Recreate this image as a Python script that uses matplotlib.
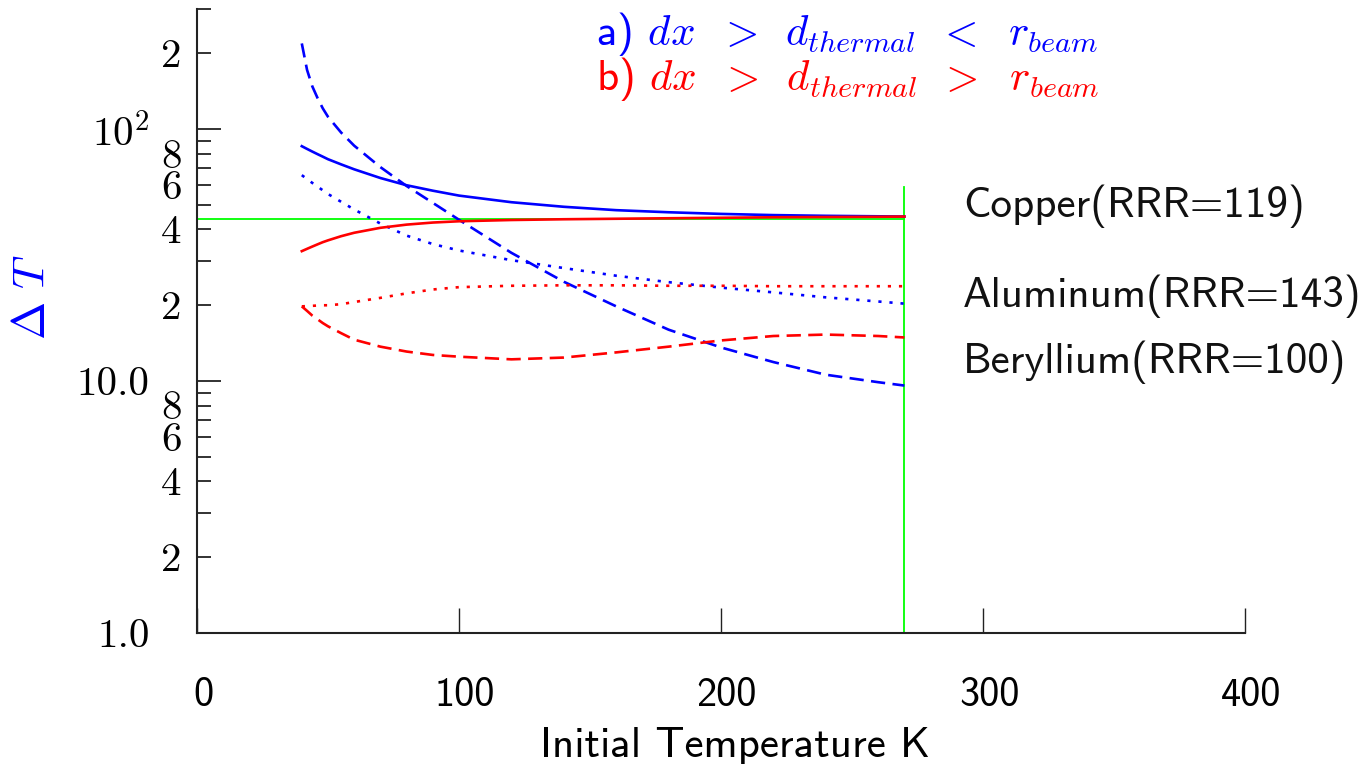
import matplotlib
matplotlib.use('Agg')
import matplotlib.pyplot as plt
from matplotlib.ticker import FixedLocator, FixedFormatter
from matplotlib.transforms import ScaledTranslation

plt.rcParams['mathtext.fontset'] = 'cm'
plt.rcParams['axes.unicode_minus'] = False

# ---------------- data ----------------
temperature = [40, 42, 44, 46, 48, 50, 55, 60, 70, 80, 90, 100, 120, 140, 160, 180, 200, 220, 240, 260, 270]

copper_a    = [85.6, 83.5, 81.5, 79.6, 77.8, 76.0, 72.5, 69.3, 64.0, 59.9, 57.0, 54.5, 51.3, 49.2, 47.7, 46.8, 46.1, 45.6, 45.3, 45.1, 45.0]
beryllium_a = [219, 172, 148, 133, 121, 112, 97, 86, 70.7, 59.5, 51.0, 43.7, 32.3, 24.8, 19.8, 16.0, 13.6, 11.9, 10.6, 9.9, 9.6]
aluminum_a  = [65.7, 63.4, 61.2, 59.2, 57.2, 55.3, 51.5, 48.0, 42.2, 37.8, 35.0, 33.0, 30.2, 28.1, 26.2, 24.7, 23.5, 22.5, 21.5, 20.7, 20.3]

copper_b    = [32.8, 33.5, 34.2, 34.9, 35.6, 36.2, 37.6, 38.8, 40.6, 41.8, 42.6, 43.1, 43.6, 43.9, 44.1, 44.3, 44.5, 44.7, 44.8, 44.9, 45.0]
aluminum_b  = [19.8, 19.85, 19.9, 19.95, 20.0, 20.0, 20.2, 20.6, 21.4, 22.3, 23.1, 23.6, 23.9, 24.0, 24.0, 23.9, 23.9, 23.8, 23.8, 23.8, 23.8]
beryllium_b = [19.8, 19.0, 18.2, 17.6, 17.0, 16.5, 15.5, 14.6, 13.7, 13.1, 12.7, 12.5, 12.2, 12.4, 13.0, 13.7, 14.5, 15.1, 15.3, 15.1, 14.9]

ref_level = 44.2        # horizontal green line
ref_temp = 270          # vertical green line
ref_top = 59.0

x_ticks = [0, 100, 200, 300, 400]
x_ticklabels = ['0', '100', '200', '300', '400']
y_major = [1, 10, 100]
y_major_labels = ['1.0', '10.0', r'$10^{2}$']
y_minor = [2, 3, 4, 5, 6, 7, 8, 9, 20, 30, 40, 50, 60, 70, 80, 90, 200, 300]
y_minor_labels = ['2', '', '4', '', '6', '', '8', '',
                  '2', '', '4', '', '6', '', '8', '',
                  '2', '']

materials = ['Copper(RRR=119)', 'Aluminum(RRR=143)', 'Beryllium(RRR=100)']

# ---------------- figure ----------------
W, H = 1363, 764
fig = plt.figure(figsize=(W / 100, H / 100), dpi=100)
ax = fig.add_axes([197 / W, (H - 633) / H, (1245 - 197) / W, (633 - 9) / H])

lw = 1.9
dashed = (0, (5.4, 2.8))
dotted = (0, (1.2, 3.0))

ax.plot([0, ref_temp], [ref_level, ref_level], color='#00ff00', lw=1.3, zorder=1)
ax.plot([ref_temp, ref_temp], [1, ref_top], color='#00ff00', lw=1.3, zorder=1, clip_on=False)

ax.plot(temperature, copper_a, color='blue', lw=lw, ls='-')
ax.plot(temperature, beryllium_a, color='blue', lw=lw, ls=dashed)
ax.plot(temperature, aluminum_a, color='blue', lw=lw, ls=dotted)
ax.plot(temperature, copper_b, color='red', lw=lw, ls='-')
ax.plot(temperature, aluminum_b, color='red', lw=lw, ls=dotted)
ax.plot(temperature, beryllium_b, color='red', lw=lw, ls=dashed)

ax.set_xlim(0, 400)
ax.set_yscale('log')
ax.set_ylim(1, 300)

for s in ['top', 'right']:
    ax.spines[s].set_visible(False)
for s in ['left', 'bottom']:
    ax.spines[s].set_linewidth(1.5)
    ax.spines[s].set_color('#222222')

ax.set_xticks(x_ticks)
ax.set_xticklabels(x_ticklabels)
ax.tick_params(axis='x', direction='in', length=18, width=1.0, pad=32,
               labelsize=29, labelfontfamily='cmss10', color='#222222')
for lab in ax.get_xticklabels():
    lab.set_transform(lab.get_transform() + ScaledTranslation(6 / 100, 0, fig.dpi_scale_trans))

ax.yaxis.set_major_locator(FixedLocator(y_major))
ax.yaxis.set_major_formatter(FixedFormatter(y_major_labels))
ax.yaxis.set_minor_locator(FixedLocator(y_minor))
ax.yaxis.set_minor_formatter(FixedFormatter(y_minor_labels))
ax.tick_params(axis='y', which='major', direction='in', length=17, width=1.3, pad=34,
               labelsize=29.5, labelfontfamily='cmr10', color='#222222')
ax.tick_params(axis='y', which='minor', direction='in', length=10, width=1.3, pad=11,
               labelsize=29.5, labelfontfamily='cmr10', color='#222222')

ax.set_xlabel('Initial Temperature K', fontsize=31, family='cmss10')
ax.xaxis.label.set_va('baseline')
ax.xaxis.set_label_coords((735.5 - 197) / 1048, (633 - 757) / 624)

ax.set_ylabel(r'$\Delta\ T$', fontsize=33, color='blue')
ax.yaxis.label.set_va('center')
ax.yaxis.set_label_coords((33 - 197) / 1048, (633 - 297) / 624)

fig.text(596 / W, (H - 45) / H, r'a) $dx\ \;>\ \,d_{thermal}\ \,<\ \;r_{beam}$',
         color='blue', fontsize=31, family='cmss10', va='baseline', ha='left')
fig.text(596 / W, (H - 90) / H, r'b) $dx\ \;>\ \,d_{thermal}\ \,>\ \;r_{beam}$',
         color='red', fontsize=31, family='cmss10', va='baseline', ha='left')

for name, base in zip(materials, [217, 307, 373]):
    fig.text(963 / W, (H - base) / H, name, fontsize=31, family='cmss10',
             va='baseline', ha='left', color='#111111')

fig.savefig('out.png', dpi=100)
